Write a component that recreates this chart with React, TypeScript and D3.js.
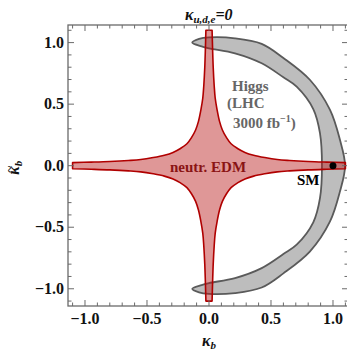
import * as d3 from "d3";

const W = 347;
const H = 350;

const majorTicks = [-1, -0.5, 0, 0.5, 1];
const tickLabels = ["\u22121.0", "\u22120.5", "0.0", "0.5", "1.0"];

// Higgs band (LHC 3000 fb^-1), upper half; lower half is the mirror image
const higgsOuterKb = [-0.135, -0.08, 0.0, 0.21, 0.425, 0.6, 0.815, 0.976, 1.056, 1.097];
const higgsOuterKt = [1.0, 1.03, 1.042, 1.035, 0.99, 0.875, 0.696, 0.453, 0.21, 0.0];
const higgsInnerKb = [-0.135, -0.06, 0.0, 0.21, 0.425, 0.6, 0.707, 0.841, 0.895, 0.911];
const higgsInnerKt = [1.0, 0.97, 0.954, 0.913, 0.832, 0.718, 0.642, 0.46, 0.264, 0.0];

// neutron EDM allowed region: half-width of the horizontal arm (first quadrant)
const edmKb = [1.1, 0.95, 0.8, 0.65, 0.55, 0.45, 0.36, 0.29, 0.23];
const edmHalf = [0.025, 0.029, 0.034, 0.042, 0.05, 0.066, 0.085, 0.108, 0.14];
const edmDiag = 0.178;

const smPoint: [number, number] = [1, 0];

type Pt = [number, number];

export default function App()
{
    const m = { left: 68, top: 25, right: 348, bottom: 306 };
    const x = d3.scaleLinear().domain([-1.137, 1.121]).range([m.left, m.right]);
    const y = d3.scaleLinear().domain([-1.14, 1.143]).range([m.bottom, m.top]);

    // Higgs ring
    const outerUp: Pt[] = higgsOuterKb.map((k, i) => [k, higgsOuterKt[i]]);
    const innerUp: Pt[] = higgsInnerKb.map((k, i) => [k, higgsInnerKt[i]]);
    const ring: Pt[] = [
        ...outerUp,
        ...outerUp.slice(0, -1).reverse().map(([a, b]) => [a, -b] as Pt),
        ...innerUp.slice(1).map(([a, b]) => [a, -b] as Pt),
        ...innerUp.slice(1, -1).reverse(),
    ];
    const ringPath = d3.line<Pt>().x((d) => x(d[0])).y((d) => y(d[1])).curve(d3.curveCatmullRomClosed)(ring) || "";

    // EDM star
    const arm: Pt[] = edmKb.map((k, i) => [k, edmHalf[i]]);
    const q1: Pt[] = [...arm, [edmDiag, edmDiag], ...arm.slice().reverse().map(([a, b]) => [b, a] as Pt)];
    const q2: Pt[] = q1.slice().reverse().map(([a, b]) => [-a, b] as Pt);
    const q3: Pt[] = q1.map(([a, b]) => [-a, -b] as Pt);
    const q4: Pt[] = q1.slice().reverse().map(([a, b]) => [a, -b] as Pt);
    const seg = d3.line<Pt>().x((d) => x(d[0])).y((d) => y(d[1])).curve(d3.curveCatmullRom);
    const edmPath = [q1, q2, q3, q4].map((q, i) => { const s = seg(q) || ""; return i === 0 ? s : s.replace(/^M/, "L"); }).join("") + "Z";

    const minorX = x.ticks(20);
    const minorY = y.ticks(20);
    const frame = "#6a6a6a";
    const serif = "'Liberation Serif', 'Times New Roman', serif";

    return (
        <div style={{ position: "absolute", left: 0, top: 0 }}>
            <svg width={W} height={H} style={{ display: "block", background: "#fff" }} fontFamily={serif}>
                <path d={ringPath} fill="#bdbdbd" stroke="#5a5a5a" strokeWidth={1.8} />
                <path d={edmPath} fill="rgba(185,25,25,0.45)" stroke="#b00000" strokeWidth={1.6} strokeLinejoin="round" />
                <circle cx={x(smPoint[0])} cy={y(smPoint[1])} r={3.5} fill="#000" />

                {/* frame */}
                <rect x={m.left} y={m.top} width={m.right - m.left} height={m.bottom - m.top} fill="none" stroke={frame} strokeWidth={1.3} />
                {minorX.map((t) => {
                    const major = majorTicks.some((v) => Math.abs(v - t) < 1e-6);
                    const len = major ? 6 : 3.5;
                    return (
                        <g key={"x" + t} stroke={frame} strokeWidth={1}>
                            <line x1={x(t)} x2={x(t)} y1={m.bottom} y2={m.bottom - len} />
                            <line x1={x(t)} x2={x(t)} y1={m.top} y2={m.top + len} />
                        </g>
                    );
                })}
                {minorY.map((t) => {
                    const major = majorTicks.some((v) => Math.abs(v - t) < 1e-6);
                    const len = major ? 6 : 3.5;
                    return (
                        <g key={"y" + t} stroke={frame} strokeWidth={1}>
                            <line x1={m.left} x2={m.left + len} y1={y(t)} y2={y(t)} />
                            <line x1={m.right} x2={m.right - len} y1={y(t)} y2={y(t)} />
                        </g>
                    );
                })}

                {/* tick labels */}
                {majorTicks.map((t, i) => (
                    <text key={"xl" + t} x={x(t)} y={324} textAnchor="middle" fontSize={16} fontWeight="bold" fill="#111">{tickLabels[i]}</text>
                ))}
                {majorTicks.map((t, i) => (
                    <text key={"yl" + t} x={64} y={y(t) + 5} textAnchor="end" fontSize={16} fontWeight="bold" fill="#111">{tickLabels[i]}</text>
                ))}

                {/* title */}
                <text x={185} y={20} fontSize={16} fontWeight="bold" fontStyle="italic" fill="#111">
                    κ<tspan fontSize={11} dy={3}>u,d,e</tspan><tspan dy={-3}>=0</tspan>
                </text>

                {/* axis labels */}
                <text x={202} y={346} fontSize={16} fontWeight="bold" fontStyle="italic" fill="#111">
                    κ<tspan fontSize={11} dy={3}>b</tspan>
                </text>
                <g transform={`translate(19,${y(0) + 9}) rotate(-90)`} fontWeight="bold" fontStyle="italic" fill="#111">
                    <text x={0} y={0} fontSize={16}>κ<tspan fontSize={11} dy={3}>b</tspan></text>
                    <text x={5.5} y={-5.5} fontSize={13} textAnchor="middle">~</text>
                </g>

                {/* annotations */}
                <g fontSize={15} fontWeight="bold" fill="#666">
                    <text x={232} y={91}>Higgs</text>
                    <text x={227} y={108}>(LHC</text>
                    <text x={233} y={128}>3000 fb<tspan fontSize={10} dy={-6}>{"\u22121"}</tspan><tspan dy={6}>)</tspan></text>
                </g>
                <text x={170} y={171.5} fontSize={15} fontWeight="bold" fill="#8a1414">neutr. EDM</text>
                <text x={297} y={184.5} fontSize={15} fontWeight="bold" fill="#000">SM</text>
            </svg>
        </div>
    );
}
